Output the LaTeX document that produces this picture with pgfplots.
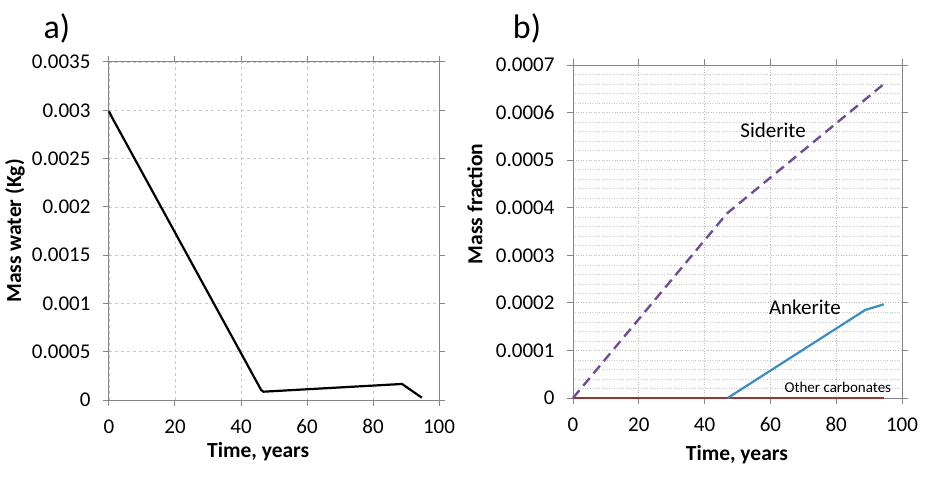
\documentclass[border=0pt]{standalone}
\usepackage{pgfplots}
\pgfplotsset{compat=1.18}
\usepackage{fontspec}
\setmainfont{Carlito}
\definecolor{sidc}{HTML}{6E4F93}
\definecolor{ankc}{HTML}{3A8CC2}
\definecolor{othc}{HTML}{953735}
\definecolor{axc}{HTML}{858585}
\definecolor{gridc}{HTML}{C8C8C8}
\begin{document}
\begin{tikzpicture}
\useasboundingbox (0pt,0pt) rectangle (929pt,488pt);
\pgfplotsset{
  common/.style={
    scale only axis,
    xmin=0, xmax=100,
    xtick={0,20,...,100},
    tick align=outside,
    major tick length=6pt,
    tick style={axc, line width=1pt},
    axis line style={axc, line width=1pt},
    tick label style={font=\fontsize{21}{22}\selectfont},
    xticklabel style={text height=14pt, text depth=0pt, yshift=-10pt},
    yticklabel style={xshift=-9pt, /pgf/number format/fixed, /pgf/number format/precision=4},
    label style={font=\bfseries\fontsize{21.5}{23}\selectfont},
    /pgf/number format/assume math mode=true,
    scaled y ticks=false,
    xmajorgrids, ymajorgrids,
    major grid style={gridc, dashed, line width=0.6pt},
    clip=false,
  }
}
\begin{axis}[common,
  at={(109pt,88pt)}, anchor=south west,
  width=330pt, height=338pt,
  ymin=0, ymax=0.0035,
  ytick={0,0.0005,...,0.0035},
  xlabel={Time, years},
  ylabel={Mass water (Kg)},
  xlabel style={at={(axis description cs:0.452,-0.154)}, anchor=center},
  ylabel style={at={(axis description cs:-0.285,0.5)}, anchor=center},
]
\addplot[black, line width=2.2pt] coordinates {
(0,0.00299) (0.7,0.00294) (46.1,0.000104) (46.8,0.000086) (88.8,0.000166) (94.8,0.000024)
};
\end{axis}
\begin{axis}[common,
  at={(573pt,90pt)}, anchor=south west,
  width=329pt, height=333pt,
  ymin=0, ymax=0.0007,
  ytick={0,0.0001,...,0.0007},
  minor y tick num=4,
  yminorgrids,
  minor tick length=0pt,
  minor grid style={gridc, dotted, line width=0.6pt},
  major grid style={gridc!120, dotted, line width=0.8pt},
  xlabel={Time, years},
  ylabel={Mass fraction},
  xlabel style={at={(axis description cs:0.498,-0.171)}, anchor=center},
  ylabel style={at={(axis description cs:-0.298,0.583)}, anchor=center},
]
\addplot[othc, line width=2.6pt] coordinates {(0,0) (94.5,0)};
\addplot[sidc, line width=2.4pt, dash pattern=on 10pt off 6pt] coordinates {
(0,0) (46.8,0.000388) (94.3,0.000659)
};
\addplot[ankc, line width=2.2pt] coordinates {
(47,0) (88.8,0.000185) (94.5,0.000197)
};
\node[font=\fontsize{21}{22}\selectfont] at (axis cs:60.8,0.000563) {Siderite};
\node[font=\fontsize{21}{22}\selectfont] at (axis cs:70.5,0.000191) {Ankerite};
\node[font=\fontsize{15}{16}\selectfont] at (axis cs:80.5,0.0000231) {Other carbonates};
\end{axis}
\node[font=\fontsize{34}{36}\selectfont] at (57pt,460pt) {a)};
\node[font=\fontsize{34}{36}\selectfont] at (527pt,460pt) {b)};
\end{tikzpicture}
\end{document}
